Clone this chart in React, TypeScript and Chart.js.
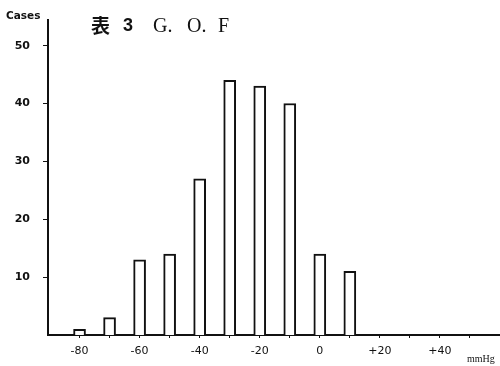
import React, { useEffect, useRef } from "react";
import { Chart, registerables } from "chart.js";

Chart.register(...registerables);

const pressureBins = [-80, -70, -60, -50, -40, -30, -20, -10, 0, 10];
const caseCounts = [1, 3, 13, 14, 27, 44, 43, 40, 14, 11];
const yTickValues = [10, 20, 30, 40, 50];
const xTickValues = [-80, -70, -60, -50, -40, -30, -20, -10, 0, 10, 20, 30, 40, 50];
const xLabelValues = [-80, -60, -40, -20, 0, 20, 40];
const titleParts = ["表", "3", "G.", "O.", "F"];
const yAxisTitle = "Cases";
const xAxisUnit = "mmHg";

const textPlugin = {
  id: "textPlugin",
  afterDraw(chart: any) {
    const ctx = chart.ctx;
    ctx.save();
    ctx.fillStyle = "#111";
    ctx.textBaseline = "middle";
    ctx.textAlign = "left";
    ctx.font = "bold 10.5px 'DejaVu Sans'";
    ctx.fillText(yAxisTitle, 6, 16);
    ctx.font = "bold 19px 'Noto Sans CJK JP'";
    ctx.fillText(titleParts[0], 91, 26);
    ctx.font = "bold 18px 'Liberation Sans'";
    ctx.fillText(titleParts[1], 123, 26);
    ctx.font = "20px 'Liberation Serif'";
    ctx.fillText(titleParts[2], 153, 27);
    ctx.fillText(titleParts[3], 187, 27);
    ctx.fillText(titleParts[4], 218, 27);
    ctx.font = "10px 'Liberation Serif'";
    ctx.fillText(xAxisUnit, 467, 359);
    ctx.restore();
  },
};

export default function App() {
  const canvasRef = useRef<HTMLCanvasElement | null>(null);

  useEffect(() => {
    if (!canvasRef.current) return;
    const chart = new Chart(canvasRef.current, {
      type: "bar",
      data: {
        datasets: [
          {
            data: pressureBins.map((x, i) => ({ x, y: caseCounts[i] })),
            backgroundColor: "#ffffff",
            borderColor: "#111111",
            borderWidth: 2,
            borderSkipped: "bottom",
            barThickness: 12,
          },
        ],
      },
      options: {
        animation: false,
        responsive: false,
        maintainAspectRatio: false,
        layout: { padding: { top: 8, right: 0, left: 0, bottom: 0 } },
        plugins: {
          legend: { display: false },
          tooltip: { enabled: false },
          title: { display: false },
        },
        scales: {
          x: {
            type: "linear",
            offset: false,
            min: -90.5,
            max: 60,
            afterBuildTicks: (axis: any) => {
              axis.ticks = xTickValues.map((v) => ({ value: v }));
            },
            afterFit: (scale: any) => {
              scale.height = 31;
            },
            grid: {
              display: true,
              offset: false,
              drawOnChartArea: false,
              drawTicks: true,
              tickLength: 3,
              color: "#111",
              lineWidth: 1,
            },
            border: { display: true, color: "#111", width: 2 },
            ticks: {
              autoSkip: false,
              maxRotation: 0,
              padding: 7,
              color: "#111",
              font: { family: "'DejaVu Sans'", size: 11 },
              callback: (value: any) => {
                const v = Number(value);
                if (!xLabelValues.includes(v)) return "";
                return v > 0 ? "+" + v : String(v);
              },
            },
          },
          y: {
            min: 0,
            max: 54.5,
            afterBuildTicks: (axis: any) => {
              axis.ticks = yTickValues.map((v) => ({ value: v }));
            },
            afterFit: (scale: any) => {
              scale.width = 48;
            },
            grid: {
              display: true,
              drawOnChartArea: false,
              drawTicks: true,
              tickLength: 5,
              color: "#111",
              lineWidth: 1,
            },
            border: { display: true, color: "#111", width: 2 },
            ticks: {
              padding: 13,
              color: "#111",
              font: { family: "'DejaVu Sans'", size: 11, weight: "bold" },
              callback: (value: any) => String(value),
            },
          },
        },
      },
      plugins: [textPlugin],
    } as any);
    return () => chart.destroy();
  }, []);

  return (
    <div style={{ position: "absolute", left: 0, top: 0, width: 500, height: 366, background: "#fff" }}>
      <canvas ref={canvasRef} width={500} height={366} style={{ display: "block" }} />
    </div>
  );
}
